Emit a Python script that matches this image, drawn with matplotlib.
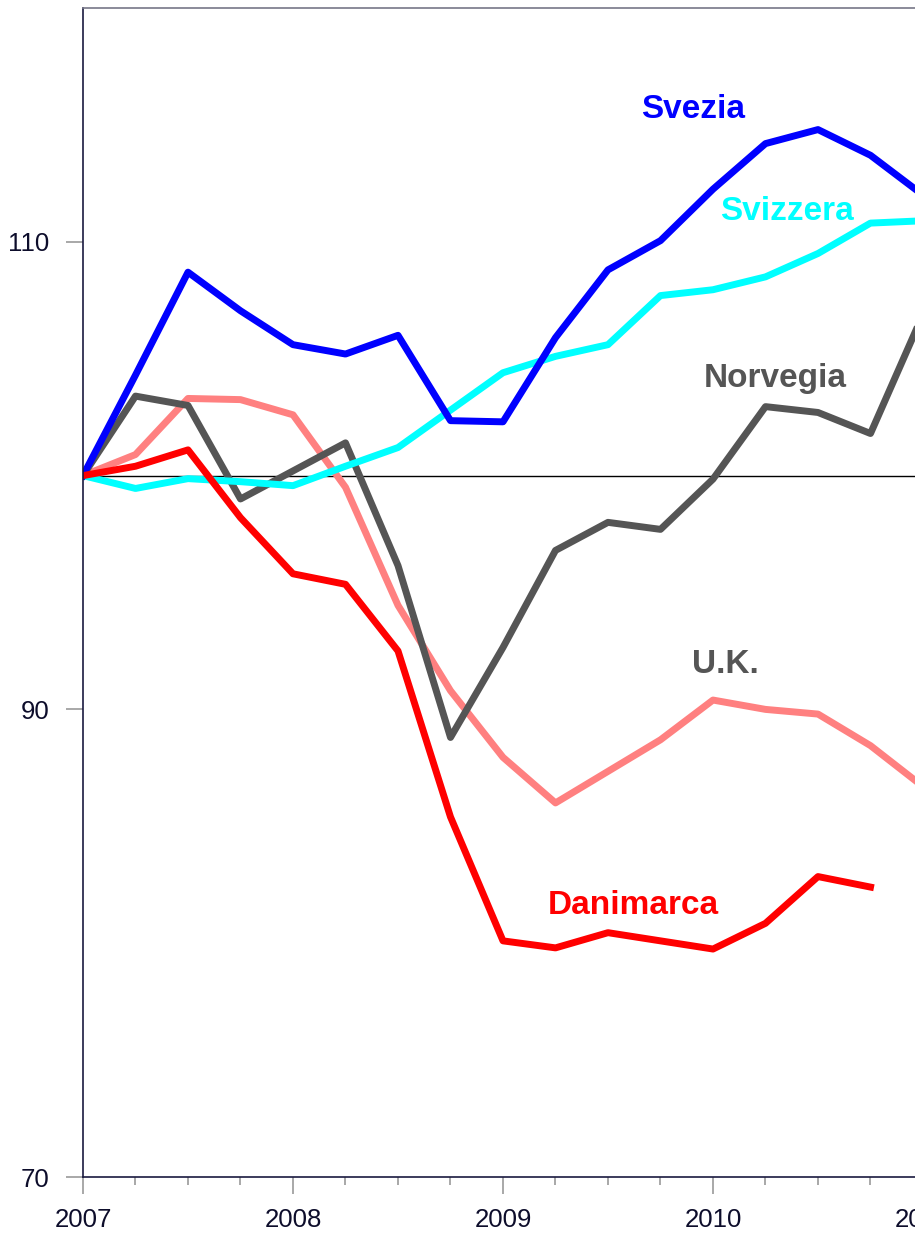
import matplotlib.pyplot as plt
from matplotlib.ticker import MultipleLocator

plt.rcParams['font.family'] = ['Liberation Sans', 'DejaVu Sans']

# trimestri dal 2007
x = [2007 + k * 0.25 for k in range(17)]

svezia = [100, 104.3, 108.7, 107.05, 105.6, 105.2, 106.0, 102.35, 102.3,
          105.9, 108.8, 110.05, 112.25, 114.2, 114.8, 113.7, 112.0]
svizzera = [100, 99.45, 99.87, 99.74, 99.57, 100.4, 101.2, 102.8, 104.4,
            105.1, 105.6, 107.7, 107.95, 108.5, 109.5, 110.8, 110.9]
norvegia = [100, 103.4, 103.0, 99.0, 100.2, 101.4, 96.15, 88.8, 92.65,
            96.8, 98.0, 97.7, 99.85, 102.95, 102.7, 101.8, 106.9]
uk = [100, 100.9, 103.3, 103.25, 102.6, 99.5, 94.45, 90.8, 87.95,
      86.0, 87.35, 88.7, 90.4, 90.0, 89.8, 88.45, 86.7]
danimarca = [100, 100.4, 101.1, 98.2, 95.8, 95.35, 92.5, 85.4, 80.1,
             79.8, 80.45, 80.1, 79.75, 80.85, 82.85, 82.4]

fig = plt.figure(figsize=(9.15, 12.35), dpi=100)
# l'asse prosegue oltre il bordo destro della figura
ax = fig.add_axes([83 / 915, 58 / 1235, 1050 / 915, 1169 / 1235])

lw = 5.0
ax.axhline(100, color='black', lw=1, zorder=1)
ax.plot(x, uk, color='#ff8080', lw=lw)
ax.plot(x, norvegia, color='#555555', lw=lw)
ax.plot(x, svizzera, color='#00ffff', lw=lw)
ax.plot(x, svezia, color='#0000ff', lw=lw)
ax.plot(x[:len(danimarca)], danimarca, color='#ff0000', lw=lw)

etichette = [('Svezia', 2009.905, 115.68, '#0000ff'),
             ('Svizzera', 2010.352, 111.28, '#00ffff'),
             ('Norvegia', 2010.295, 104.15, '#555555'),
             ('U.K.', 2010.057, 91.92, '#555555'),
             ('Danimarca', 2009.619, 81.62, '#ff0000')]
for testo, tx, ty, col in etichette:
    ax.text(tx, ty, testo, color=col, fontsize=24, fontweight='bold',
            ha='center', va='center')

ax.set_xlim(2007, 2012)
ax.set_ylim(70, 120)
ax.set_yticks([70, 90, 110])
ax.xaxis.set_major_locator(MultipleLocator(1))
ax.xaxis.set_minor_locator(MultipleLocator(0.25))
ax.xaxis.set_major_formatter(lambda v, p: str(int(round(v))))

ax.tick_params(axis='both', which='major', length=12.2, width=1.2, color='#999999',
               labelsize=18.5, labelcolor='#0d0d2b')
ax.tick_params(axis='y', which='major', pad=12)
ax.tick_params(axis='x', which='major', pad=10)
ax.tick_params(axis='x', which='minor', length=5.8, width=1.2, color='#999999')

ax.spines['left'].set_color('#1a1a40')
ax.spines['bottom'].set_color('#1a1a40')
ax.spines['top'].set_color('#777788')
ax.spines['right'].set_visible(False)
for s in ax.spines.values():
    s.set_linewidth(1.2)

fig.savefig('out.png', dpi=100)
